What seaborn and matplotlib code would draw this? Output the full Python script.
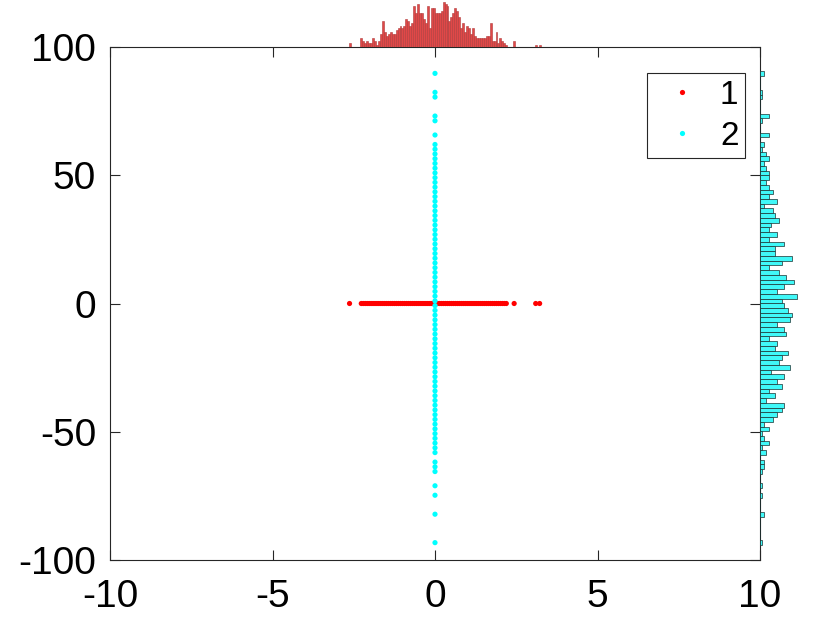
import numpy as np
import pandas as pd
import matplotlib
matplotlib.use("Agg")
import matplotlib.pyplot as plt
import seaborn as sns

# marginal histogram of group 1 (x values, y = 0), left to right
top_start, top_width = -2.66, 0.0603
top_counts = [2, 0, 0, 0, 0, 0, 4, 3, 2, 3, 2, 2, 4, 3, 1, 3, 6, 12, 7, 5,
              6, 7, 6, 6, 8, 9, 10, 9, 10, 13, 12, 10, 11, 19, 16, 20, 16, 16, 13, 11,
              19, 9, 18, 18, 16, 16, 16, 17, 21, 20, 19, 12, 14, 16, 18, 17, 14, 9, 11, 7,
              10, 9, 6, 9, 5, 4, 4, 4, 4, 4, 5, 5, 11, 3, 3, 7, 2, 4, 3, 2,
              1, 0, 0, 0, 3, 0, 0, 0, 0, 0, 0, 0, 0, 0, 0, 1, 0, 1]

# marginal histogram of group 2 (y values, x = 0), top to bottom
right_top, right_width = 90.64, 1.848
right_counts = [2, 0, 0, 0, 1, 1, 0, 0, 0, 4, 1, 0, 0, 4, 0, 2, 1, 3, 4, 2,
                3, 4, 4, 3, 4, 6, 4, 8, 2, 6, 7, 9, 5, 4, 8, 4, 11, 7, 7, 15,
                10, 4, 9, 12, 16, 11, 8, 17, 10, 11, 13, 15, 14, 8, 11, 12, 4, 8, 7, 13,
                10, 9, 14, 5, 11, 8, 10, 4, 7, 3, 11, 10, 8, 6, 2, 4, 1, 2, 4, 1,
                3, 0, 2, 2, 1, 0, 0, 1, 0, 1, 0, 0, 0, 2, 0, 0, 0, 0, 0, 1]

top_edges = top_start + top_width * np.arange(len(top_counts) + 1)
right_edges = right_top - right_width * np.arange(len(right_counts) + 1)[::-1]
top_df = pd.DataFrame({"x": top_edges[:-1] + top_width / 2,
                       "n": np.array(top_counts, dtype=float)})
right_df = pd.DataFrame({"y": right_edges[:-1] + right_width / 2,
                         "n": np.array(right_counts[::-1], dtype=float)})

red = "#ff0000"
cyan = "#00ffff"

g1 = top_df.loc[top_df["n"] > 0, "x"].to_numpy()
g2 = right_df.loc[right_df["n"] > 0, "y"].to_numpy()
df = pd.DataFrame({
    "x": np.concatenate([g1, np.zeros(len(g2))]),
    "y": np.concatenate([np.zeros(len(g1)), g2]),
    "group": ["1"] * len(g1) + ["2"] * len(g2),
})

sns.set_style("white")
plt.rcParams["font.family"] = ["Liberation Sans", "DejaVu Sans"]
plt.rcParams["axes.unicode_minus"] = False

W, H = 840, 630
fig = plt.figure(figsize=(8.4, 6.3), dpi=100)
L, R, B, T = 110, 760, 560, 47
ax = fig.add_axes([L / W, (H - B) / H, (R - L) / W, (B - T) / H])
ax_top = fig.add_axes([L / W, (H - T) / H, (R - L) / W, 45 / H])
ax_right = fig.add_axes([R / W, (H - B) / H, 43 / W, (B - T) / H])

sns.scatterplot(data=df, x="x", y="y", hue="group", palette={"1": red, "2": cyan},
                s=14, linewidth=0, ax=ax)
ax.set_xlim(-10, 10)
ax.set_ylim(-100, 100)
ax.set_xticks([-10, -5, 0, 5, 10])
ax.set_yticks([-100, -50, 0, 50, 100])
ax.set_xlabel("")
ax.set_ylabel("")
for sp in ax.spines.values():
    sp.set_visible(True)
    sp.set_color("#262626")
    sp.set_linewidth(0.8)
ax.tick_params(direction="in", length=7, width=0.8, colors="#262626",
               labelcolor="black", labelsize=28, top=True, right=True,
               left=True, bottom=True)
ax.tick_params(axis="x", pad=14)
ax.tick_params(axis="y", pad=10)
leg = ax.legend(loc="upper right", bbox_to_anchor=(0.977, 0.949), fontsize=24,
                borderaxespad=0, frameon=True, fancybox=False, edgecolor="#262626",
                framealpha=1, handletextpad=0.3, borderpad=0.2, labelspacing=0.3,
                markerscale=1.0, handlelength=1.7, labelcolor="black")
leg.get_frame().set_linewidth(0.8)

sns.histplot(data=top_df, x="x", weights="n", bins=list(top_edges), ax=ax_top,
             color="#e04848", alpha=1, edgecolor="#b03a3a", linewidth=0.4)
ax_top.set_xlim(-10, 10)
ax_top.set_ylim(0, 21)
ax_top.axis("off")

sns.histplot(data=right_df, y="y", weights="n", bins=list(right_edges), ax=ax_right,
             color="#40f8f8", alpha=1, edgecolor="#1a3030", linewidth=0.5)
ax_right.set_ylim(-100, 100)
ax_right.set_xlim(0, 20)
ax_right.axis("off")

fig.savefig("out.png", dpi=100)
